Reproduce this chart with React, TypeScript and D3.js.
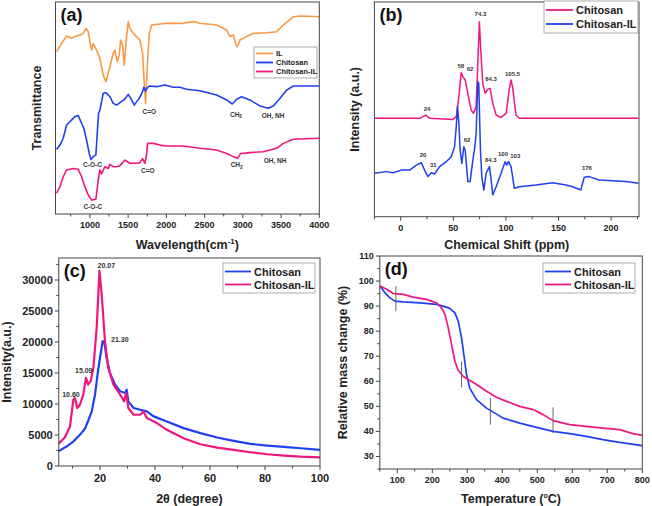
import React from 'react';
import * as d3 from 'd3';

const FONT = '"Liberation Sans", Arial, Helvetica, sans-serif';
const BLUE = '#1f3ff2';
const PINK = '#f0167c';
const ORANGE = '#f79a45';

// ---------- (a) FTIR ----------
const ftirIlX = [564,629,695,760,804,869,913,948,978,1000,1022,1044,1087,1131,1174,1209,1227,1262,1305,1327,1358,1384,1401,1427,1449,1480,1501,1523,1567,1610,1654,1689,1711,1728,1750,1776,1807,2003,2221,2352,2439,2657,2788,2831,2875,2918,2940,2962,3049,3136,3311,3442,3529,3660,3747,4000];
const ftirIlY = [75.9,79.7,83.2,82.1,82.9,83.6,84.4,86.8,85.2,80.5,76.6,79.7,76.6,72.7,65.0,61.8,64.2,68.8,75.1,76.6,71.2,74.3,81.3,79.0,69.6,82.9,89.9,86.8,84.4,82.9,81.3,75.1,61.1,51.7,68.8,84.4,88.3,89.1,89.1,89.9,89.1,88.3,86.0,82.9,83.6,78.2,79.0,81.3,82.9,84.4,84.7,85.2,88.3,92.2,92.5,92.2];
const ftirChX = [564,608,651,695,738,804,847,891,921,956,991,1013,1044,1078,1096,1113,1131,1174,1209,1262,1305,1349,1392,1445,1501,1536,1580,1610,1645,1689,1706,1728,1745,1776,1872,1981,2090,2177,2264,2439,2657,2788,2862,2918,2984,3093,3224,3333,3398,3485,3573,3660,4000];
const ftirChY = [30.1,32.2,35.4,41.6,43.1,45.5,46.0,42.4,40.0,34.6,28.3,25.5,26.8,27.6,37.7,47.0,48.6,56.4,56.7,54.8,51.7,50.9,52.0,53.3,55.9,54.0,50.9,52.5,54.0,57.2,59.2,57.5,58.7,59.8,59.5,60.3,59.2,59.2,58.3,57.6,55.6,53.3,51.4,53.6,54.8,53.3,50.5,49.4,50.5,54.0,57.9,59.8,59.8];
const ftirChIlX = [564,608,651,695,782,847,891,934,978,1022,1078,1109,1131,1153,1196,1240,1262,1305,1349,1392,1458,1523,1610,1654,1689,1719,1741,1754,1828,1916,2003,2090,2221,2439,2657,2788,2875,2932,2971,3093,3267,3442,3529,3660,4000];
const ftirChIlY = [9.7,12.8,17.4,20.6,21.3,20.9,17.4,12.8,8.9,6.5,6.9,15.9,20.6,18.7,22.1,21.3,23.2,22.1,22.1,22.6,25.2,23.7,23.7,24.0,25.9,23.7,27.6,33.0,33.0,32.2,31.8,31.8,31.8,30.7,29.9,28.3,26.8,26.0,28.3,28.7,29.1,30.7,33.0,34.9,35.4];
const ftirTicks = [1000,1500,2000,2500,3000,3500,4000];
const ftirNotes = [
  { t: 'C=O', x: 1777, y: 48.1 }, { t: 'CH2', x: 2911, y: 46.7 }, { t: 'OH, NH', x: 3395, y: 45.8 },
  { t: 'C-O-C', x: 1034, y: 22.9 }, { t: 'C=O', x: 1757, y: 20.3 }, { t: 'CH2', x: 2920, y: 22.9 },
  { t: 'OH, NH', x: 3421, y: 25 }, { t: 'C-O-C', x: 1038, y: 3.3 },
];

// ---------- (b) NMR ----------
const nmrChX = [-25,0,18,23.7,27.5,49.6,52.8,55.3,57.5,59.1,61.3,63.8,67,69.2,71.7,74.8,76.1,78,80.3,82.8,85,87.5,90.7,95.4,100.2,103.3,104.9,106.5,109.6,112.8,150,226];
const nmrChY = [45.4,45.4,45.4,46.9,45.4,44.9,46.2,55.4,66.5,64.6,63.1,56.9,49.2,47.7,50.8,90,76.9,61.5,56.9,58.8,59.2,52.3,46.9,45.8,47.7,59.2,63.1,59.2,46.9,45.4,45.4,45.4];
const nmrChIlX = [-25,-13.6,-7.3,0.6,8.5,14.8,19.6,22.7,25.9,29,32.2,37,43.3,48,51.2,52.8,54,55.3,56.5,58.1,60,61.3,63.8,66,68.6,70.5,71.7,73.3,74.2,75.8,77.1,79,81.2,84.4,86,87.5,90.7,95.4,99.2,100.8,102.4,104.9,108,112.8,128.6,144.4,157,163.4,171.2,174.4,179.1,188.6,201.3,213.9,226];
const nmrChIlY = [20,20.8,20.3,21.5,21.5,23.8,24.9,21.5,18.5,20.3,19.7,23.1,25.4,27.7,32.3,41.5,50.8,43.1,30.8,24.6,32.3,30.8,16.2,16.2,26.2,32.3,38.5,62.3,61.5,30.8,18.5,12.3,20,23.1,16.9,10,13.8,20,25.4,23.8,25.4,23.1,13.1,13.8,14.6,15.7,14.6,13.8,12.3,18.2,18.5,16.9,16.6,16.2,15.4];
const nmrTicks = [0,50,100,150,200];
const nmrNotes = [
  { t: '74.3', x: 75.8, y: 93.6 }, { t: '58', x: 57.1, y: 69.4 }, { t: '62', x: 65.9, y: 68.1 },
  { t: '84.3', x: 85.8, y: 63.7 }, { t: '105.5', x: 106.3, y: 66 }, { t: '24', x: 25, y: 49.5 },
  { t: '20', x: 21.2, y: 28.7 }, { t: '31', x: 31, y: 23.8 }, { t: '62', x: 63, y: 35.3 },
  { t: '84.3', x: 85.6, y: 26 }, { t: '100', x: 97.2, y: 29.1 }, { t: '103', x: 108.9, y: 28 },
  { t: '176', x: 177, y: 22.6 },
];

// ---------- (c) XRD ----------
const xrdChX = [5,7.8,10.3,12.7,14.5,15.7,17,18.2,19.1,20,20.97,21.6,22.4,23.6,25.5,27.3,29.1,29.7,30.3,32.2,34.6,37,39.5,44.3,50.4,56.5,62.6,68.6,74.7,80.8,86.9,93,100];
const xrdChY = [2400,3135,3946,5027,6000,7300,8810,11512,14756,17458,20160,19890,17458,15025,13134,12053,11783,12300,10431,9350,9080,8810,8000,7189,6108,5297,4594,4054,3567,3297,3081,2865,2594];
const xrdChIlX = [5,7.2,9.1,10.3,10.9,11.7,12.7,13.9,14.9,15.7,16.6,17.6,18.8,19.8,20.6,21.8,23,24.9,27.3,28.8,29.5,30.3,32.2,34.6,35.8,37,40.7,44.3,50.4,56.5,62.6,68.6,74.7,80.8,86.9,93,100];
const xrdChIlY = [3600,4600,6378,10702,10972,9350,9891,11512,14215,13134,13675,15836,22323,31511,27727,20160,15836,13134,11512,10431,11783,9350,8270,8270,8810,7730,6919,5837,4486,3513,2973,2594,2216,1892,1676,1513,1405];
const xrdXTicks = [20,40,60,80,100];
const xrdYTicks = [0,5000,10000,15000,20000,25000,30000];
const xrdNotes = [
  { t: '20.07', x: 22.3, y: 32420 }, { t: '21.30', x: 27.2, y: 20450 },
  { t: '15.09', x: 14.1, y: 15450 }, { t: '10.60', x: 9.45, y: 11580 },
];

// ---------- (d) TGA ----------
const tgaChX = [50.5,64.8,79,93.3,117,164.7,212,231,250,264.5,274,283.6,290,297.8,307,326.4,355,402.5,450,497.6,545,592.7,640,687.7,735,800];
const tgaChY = [98,95.3,93.3,92,91.7,91.3,90.7,90,89.1,87.3,84,77.3,70.7,62.7,57.3,52.7,49.3,45.3,43.3,41.6,40,39.1,38,36.7,35.6,34.3];
const tgaChIlX = [50.5,69.6,88.6,117,145.6,183.7,212,226.5,236,245.6,255,264.5,274,288,302.6,326.4,355,383.5,412,450,488,516.6,545,592.7,640,687.7,735,773,800];
const tgaChIlY = [98,96.7,95,94.7,93.6,92.7,91.3,89.3,86.7,81.3,74.7,68,64.3,62,60.7,58.7,56,53.6,52,50,48.7,46.7,44.3,42.7,42,41.3,40.7,39.1,38.4];
const tgaMarkT = [96, 283.6, 366, 545];
const tgaMarkTop = [98, 68, 53.3, 49.6];
const tgaMarkBot = [88, 57.6, 42.7, 39.3];
const tgaXTicks = [100,200,300,400,500,600,700,800];
const tgaYTicks = [30,40,50,60,70,80,90,100,110];

const zip = (xs: number[], ys: number[]) => xs.map((x, i) => [x, ys[i]] as [number, number]);

function NoteText({ t, x, y, fs }: { t: string; x: number; y: number; fs: number }) {
  if (t.startsWith('CH2')) {
    return (
      <text x={x} y={y} fontSize={fs} textAnchor="middle" dominantBaseline="central" fill="#333" fontWeight="bold" fontFamily={FONT}>
        CH<tspan fontSize={fs * 0.75} dy={fs * 0.35}>2</tspan>
      </text>
    );
  }
  return (
    <text x={x} y={y} fontSize={fs} textAnchor="middle" dominantBaseline="central" fill="#333" fontWeight="bold" fontFamily={FONT}>{t}</text>
  );
}

type Series = { xs: number[]; ys: number[]; color: string; name: string };

function Panel(p: {
  id: string; x0: number; x1: number; y0: number; y1: number; fy0?: number;
  xDomain: [number, number]; yDomain: [number, number];
  xTicks: number[]; xMinorStep: number; yTicks?: number[]; yMinorStep?: number;
  tickFs: number; series: Series[]; legendOrder: number[]; strokeW: number;
  legend: { x: number; y: number; w: number; rowH: number; lineW: number; fs: number };
  notes: { t: string; x: number; y: number }[]; noteFs: number;
  tag: string; xTitle: React.ReactNode; yTitle: string; xTitleY: number; yTitleX: number; titleFs: number;
  children?: (sx: any, sy: any) => React.ReactNode;
}) {
  const sx = d3.scaleLinear().domain(p.xDomain).range([p.x0, p.x1]);
  const sy = d3.scaleLinear().domain(p.yDomain).range([p.y1, p.fy0 ?? p.y0]);
  const line = d3.line<[number, number]>().x(d => sx(d[0])).y(d => sy(d[1]));
  const xMinor = d3.range(Math.ceil(p.xDomain[0] / p.xMinorStep) * p.xMinorStep, p.xDomain[1] + 1e-9, p.xMinorStep)
    .filter(v => !p.xTicks.includes(v));
  const yMinor = p.yTicks && p.yMinorStep
    ? d3.range(Math.ceil(p.yDomain[0] / p.yMinorStep) * p.yMinorStep, p.yDomain[1] + 1e-9, p.yMinorStep).filter(v => !p.yTicks!.includes(v))
    : [];
  const lg = p.legend;
  return (
    <g>
      <defs>
        <clipPath id={`clip-${p.id}`}>
          <rect x={p.x0} y={p.y0} width={p.x1 - p.x0} height={p.y1 - p.y0} />
        </clipPath>
      </defs>
      <g clipPath={`url(#clip-${p.id})`}>
        {p.series.map((s, i) => (
          <path key={i} d={line(zip(s.xs, s.ys)) || ''} fill="none" stroke={s.color} strokeWidth={p.strokeW} strokeLinejoin="round" />
        ))}
      </g>
      {p.children && p.children(sx, sy)}
      {p.notes.map((n, i) => <NoteText key={i} t={n.t} x={sx(n.x)} y={sy(n.y)} fs={p.noteFs} />)}
      <rect x={p.x0} y={p.y0} width={p.x1 - p.x0} height={p.y1 - p.y0} fill="none" stroke="#444" strokeWidth={1} />
      {p.xTicks.map(v => (
        <g key={`xt${v}`}>
          <line x1={sx(v)} x2={sx(v)} y1={p.y1} y2={p.y1 + 4} stroke="#444" />
          <text x={sx(v)} y={p.y1 + 5 + p.tickFs} fontSize={p.tickFs} textAnchor="middle" fontWeight="bold" fontFamily={FONT} fill="#222">{v}</text>
        </g>
      ))}
      {xMinor.map(v => <line key={`xm${v}`} x1={sx(v)} x2={sx(v)} y1={p.y1} y2={p.y1 + 2.5} stroke="#444" />)}
      {p.yTicks && p.yTicks.map(v => (
        <g key={`yt${v}`}>
          <line x1={p.x0 - 4} x2={p.x0} y1={sy(v)} y2={sy(v)} stroke="#444" />
          <text x={p.x0 - 6} y={sy(v)} fontSize={p.tickFs} textAnchor="end" dominantBaseline="central" fontWeight="bold" fontFamily={FONT} fill="#222">{v}</text>
        </g>
      ))}
      {yMinor.map(v => <line key={`ym${v}`} x1={p.x0 - 2.5} x2={p.x0} y1={sy(v)} y2={sy(v)} stroke="#444" />)}
      <text x={p.x0 + 5} y={p.y0 + 19} fontSize={18} fontWeight="bold" fontFamily={FONT} fill="#111">{p.tag}</text>
      <rect x={lg.x} y={lg.y} width={lg.w} height={lg.rowH * p.legendOrder.length + 4} fill="#fff" stroke="#999" strokeWidth={0.8} />
      {p.legendOrder.map((si, i) => {
        const s = p.series[si];
        const yy = lg.y + 2 + lg.rowH * (i + 0.5);
        return (
          <g key={`lg${i}`}>
            <line x1={lg.x + 2} x2={lg.x + 2 + lg.lineW} y1={yy} y2={yy} stroke={s.color} strokeWidth={1.8} />
            <text x={lg.x + 5 + lg.lineW} y={yy} fontSize={lg.fs} dominantBaseline="central" fontWeight="bold" fontFamily={FONT} fill="#222">{s.name}</text>
          </g>
        );
      })}
      <text x={(p.x0 + p.x1) / 2} y={p.xTitleY} fontSize={p.titleFs} textAnchor="middle" fontWeight="bold" fontFamily={FONT} fill="#222">{p.xTitle}</text>
      <text transform={`translate(${p.yTitleX},${(p.y0 + p.y1) / 2}) rotate(-90)`} fontSize={p.titleFs} textAnchor="middle" dominantBaseline="central" fontWeight="bold" fontFamily={FONT} fill="#222">{p.yTitle}</text>
    </g>
  );
}

export default function App() {
  return (
    <svg width={652} height={506} style={{ position: 'absolute', left: 0, top: 0, background: '#fff' }}>
      <rect width={652} height={506} fill="#fff" />
      <Panel id="a" x0={55.5} x1={319.3} y0={2} y1={214} fy0={0}
        xDomain={[550, 4000]} yDomain={[0, 100]} xTicks={ftirTicks} xMinorStep={250}
        tickFs={9} strokeW={1.6}
        series={[
          { xs: ftirIlX, ys: ftirIlY, color: ORANGE, name: 'IL' },
          { xs: ftirChX, ys: ftirChY, color: BLUE, name: 'Chitosan' },
          { xs: ftirChIlX, ys: ftirChIlY, color: PINK, name: 'Chitosan-IL' },
        ]}
        legendOrder={[0, 1, 2]}
        legend={{ x: 254, y: 47, w: 63, rowH: 9, lineW: 17, fs: 7.5 }}
        notes={ftirNotes} noteFs={6.5}
        tag="(a)"
        xTitle={<>Wavelength(cm<tspan fontSize={8} dy={-5}>-1</tspan><tspan dy={5}>)</tspan></>}
        yTitle="Transmittance" xTitleY={249} yTitleX={37} titleFs={12.5}
      />
      <Panel id="b" x0={374.4} x1={639} y0={2} y1={216.7} fy0={0}
        xDomain={[-25, 226.5]} yDomain={[0, 100]} xTicks={nmrTicks} xMinorStep={25}
        tickFs={9} strokeW={1.5}
        series={[
          { xs: nmrChX, ys: nmrChY, color: PINK, name: 'Chitosan' },
          { xs: nmrChIlX, ys: nmrChIlY, color: BLUE, name: 'Chitosan-IL' },
        ]}
        legendOrder={[0, 1]}
        legend={{ x: 544, y: 1, w: 94, rowH: 14, lineW: 27, fs: 11 }}
        notes={nmrNotes} noteFs={6}
        tag="(b)"
        xTitle="Chemical Shift (ppm)"
        yTitle="Intensity (a.u.)" xTitleY={249} yTitleX={355} titleFs={12.5}
      />
      <Panel id="c" x0={58.75} x1={320} y0={258} y1={466}
        xDomain={[5, 100]} yDomain={[0, 33550]} xTicks={xrdXTicks} xMinorStep={10}
        yTicks={xrdYTicks} yMinorStep={2500}
        tickFs={11} strokeW={2.2}
        series={[
          { xs: xrdChX, ys: xrdChY, color: BLUE, name: 'Chitosan' },
          { xs: xrdChIlX, ys: xrdChIlY, color: PINK, name: 'Chitosan-IL' },
        ]}
        legendOrder={[0, 1]}
        legend={{ x: 223, y: 263, w: 92, rowH: 13, lineW: 26, fs: 11 }}
        notes={xrdNotes} noteFs={7}
        tag="(c)"
        xTitle="2θ (degree)"
        yTitle="Intensity(a.u.)" xTitleY={503} yTitleX={7} titleFs={12.5}
      />
      <Panel id="d" x0={379.8} x1={642.3} y0={256} y1={469}
        xDomain={[50, 800]} yDomain={[25, 110]} xTicks={tgaXTicks} xMinorStep={50}
        yTicks={tgaYTicks} yMinorStep={5}
        tickFs={9} strokeW={1.7}
        series={[
          { xs: tgaChX, ys: tgaChY, color: BLUE, name: 'Chitosan' },
          { xs: tgaChIlX, ys: tgaChIlY, color: PINK, name: 'Chitosan-IL' },
        ]}
        legendOrder={[0, 1]}
        legend={{ x: 543, y: 263, w: 92, rowH: 13, lineW: 26, fs: 11 }}
        notes={[]} noteFs={7}
        tag="(d)"
        xTitle={<>Temperature (<tspan fontSize={7} dy={-5}>o</tspan><tspan dy={5}>C)</tspan></>}
        yTitle="Relative mass change (%)" xTitleY={503} yTitleX={343} titleFs={12.5}
      >
        {(sx: any, sy: any) => tgaMarkT.map((t, i) => (
          <line key={i} x1={sx(t)} x2={sx(t)} y1={sy(tgaMarkTop[i])} y2={sy(tgaMarkBot[i])} stroke="#666" strokeWidth={1} />
        ))}
      </Panel>
    </svg>
  );
}
